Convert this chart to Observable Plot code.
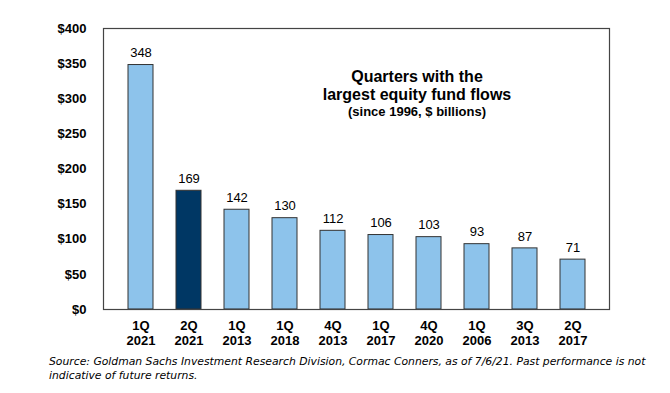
<!DOCTYPE html>
<html>
<head>
<meta charset="utf-8">
<script src="https://cdn.jsdelivr.net/npm/d3@7"></script>
<script src="https://cdn.jsdelivr.net/npm/@observablehq/plot@0.6"></script>
<style>
  body { margin: 0; background: #fff; }
  #wrap { position: relative; width: 670px; height: 393px; font-family: "Liberation Sans", Arial, sans-serif; }
  #title { position: absolute; left: 317px; width: 200px; top: 68px; text-align: center; font-weight: bold; color: #000; }
  #title .t { font-size: 16px; line-height: 18px; }
  #title .s { font-size: 13px; line-height: 16px; }
  #caption { position: absolute; left: 49px; top: 355px; font-family: "DejaVu Sans", Verdana, sans-serif; font-style: italic; font-size: 10.8px; line-height: 14px; color: #000; width: 615px; }
</style>
</head>
<body>
<div id="wrap">
  <div id="chart"></div>
  <div id="title"><div class="t">Quarters with the<br>largest equity fund flows</div><div class="s">(since 1996, $ billions)</div></div>
  <div id="caption">Source: Goldman Sachs Investment Research Division, Cormac Conners, as of 7/6/21. Past performance is not indicative of future returns.</div>
</div>
<script>
const quarters = ["1Q 2021", "2Q 2021", "1Q 2013", "1Q 2018", "4Q 2013", "1Q 2017", "4Q 2020", "1Q 2006", "3Q 2013", "2Q 2017"];
const flows = [348, 169, 142, 130, 112, 106, 103, 93, 87, 71];
const highlight = "2Q 2021";
const yTicks = [0, 50, 100, 150, 200, 250, 300, 350, 400];

const data = quarters.map((q, i) => ({q, v: flows[i]}));

const plot = Plot.plot({
  width: 670,
  height: 355,
  marginLeft: 103,
  marginRight: 61,
  marginTop: 28,
  marginBottom: 46,
  style: {fontFamily: "'Liberation Sans', Arial, sans-serif", fontSize: "13px", color: "#000", background: "#fff"},
  x: {domain: quarters, padding: 0.48, label: null},
  y: {domain: [0, 400], label: null},
  marks: [
    Plot.barY(data, {x: "q", y: "v", fill: d => d.q === highlight ? "#003764" : "#8DC3EB", stroke: "#333", strokeWidth: 1}),
    Plot.text(data, {x: "q", y: "v", text: d => String(d.v), dy: -12, fontSize: 13, fill: "#000"}),
    Plot.frame({stroke: "#444", strokeWidth: 1.2}),
    Plot.axisY({ticks: yTicks, tickSize: 0, tickPadding: 17, tickFormat: d => "$" + d, fontWeight: "bold", fontSize: 13}),
    Plot.axisX({tickSize: 0, tickPadding: 10, tickFormat: d => d.replace(" ", "\n"), fontWeight: "bold", fontSize: 13, lineHeight: 1.15})
  ]
});
document.getElementById("chart").appendChild(plot);
</script>
</body>
</html>
